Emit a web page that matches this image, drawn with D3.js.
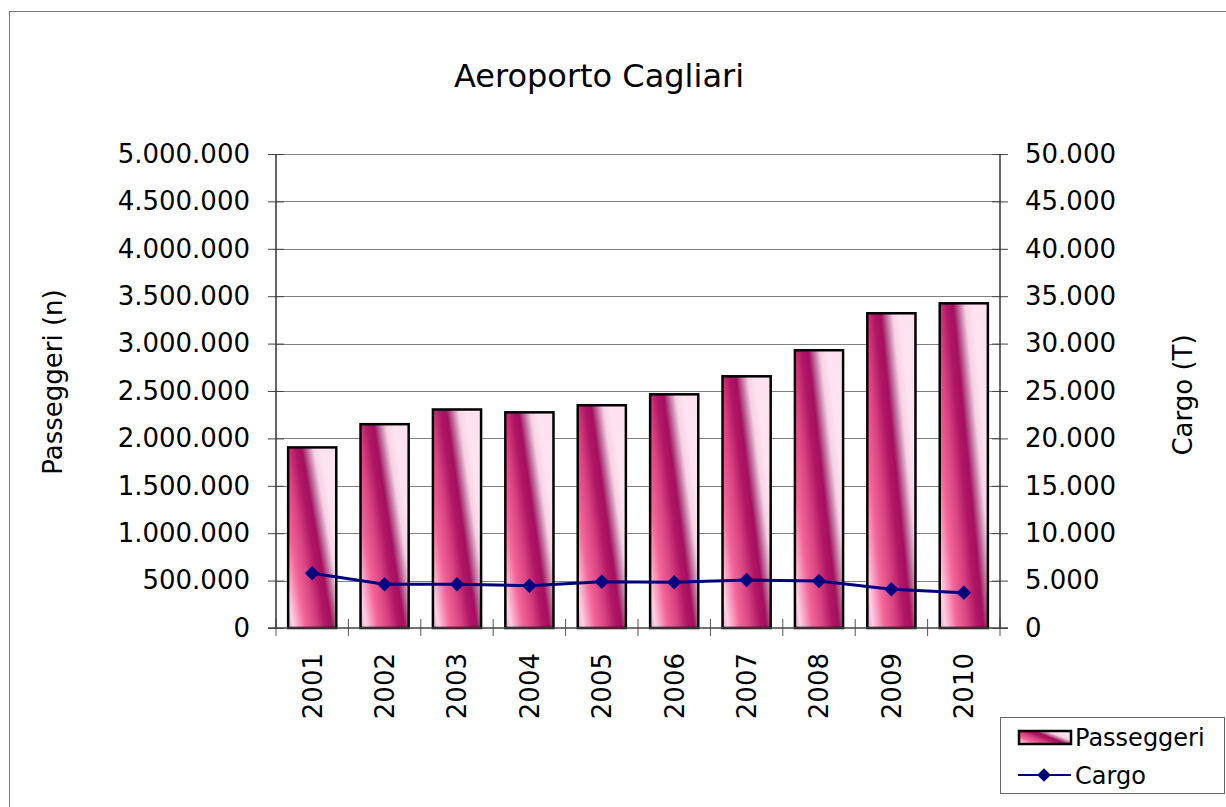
<!DOCTYPE html>
<html>
<head>
<meta charset="utf-8">
<script src="https://cdn.jsdelivr.net/npm/d3@7"></script>
<style>
html,body{margin:0;padding:0;background:#fff;}
svg{display:block;font-family:"DejaVu Sans",Verdana,sans-serif;}
</style>
</head>
<body>
<svg id="chart" width="1226" height="807"></svg>
<script>
const years = ["2001","2002","2003","2004","2005","2006","2007","2008","2009","2010"];
const passeggeri = [1905000, 2150000, 2305000, 2275000, 2350000, 2465000, 2655000, 2930000, 3320000, 3425000];
const cargo = [5770, 4610, 4610, 4460, 4890, 4820, 5060, 4960, 4080, 3730];
const leftTicks = [0,500000,1000000,1500000,2000000,2500000,3000000,3500000,4000000,4500000,5000000];
const rightTicks = [0,5000,10000,15000,20000,25000,30000,35000,40000,45000,50000];
const title = "Aeroporto Cagliari";
const leftTitle = "Passeggeri (n)";
const rightTitle = "Cargo (T)";
const seriesNames = ["Passeggeri","Cargo"];

const svg = d3.select("#chart");
const locale = d3.formatLocale({decimal:",", thousands:".", grouping:[3], currency:["€",""]});
const fmt = locale.format(",d");

const L = 276, R = 1000, T = 154, B = 628;

// outer frame
svg.append("rect").attr("x",9.5).attr("y",11.5).attr("width",1240).attr("height",820)
  .attr("fill","none").attr("stroke","#7a7a7a").attr("stroke-width",1);

// gradient
const defs = svg.append("defs");
const grad = defs.append("linearGradient").attr("id","barGrad")
  .attr("x1",-0.454).attr("y1",0.291).attr("x2",0.709).attr("y2",-0.454);
[[0,"#d6a6cf"],[0.07,"#fbd3e5"],[0.22,"#f3679a"],[0.36,"#d8427f"],[0.48,"#b01665"],[0.56,"#a60f5e"],
 [0.64,"#c87aa6"],[0.71,"#f6d2e4"],[0.80,"#ffe3f0"],[1,"#ffe0ee"]]
 .forEach(([o,c])=>grad.append("stop").attr("offset",o).attr("stop-color",c));

const x = d3.scaleBand().domain(years).range([L,R]).padding(0);
const yL = d3.scaleLinear().domain([0,5000000]).range([B,T]);
const yR = d3.scaleLinear().domain([0,50000]).range([B,T]);

// gridlines
svg.append("g").selectAll("line").data(leftTicks.slice(1)).join("line")
  .attr("x1",L).attr("x2",R)
  .attr("y1",d=>Math.round(yL(d))+0.5).attr("y2",d=>Math.round(yL(d))+0.5)
  .attr("stroke","#808080").attr("stroke-width",1);

// bars
const bw = x.bandwidth()*0.665;
svg.append("g").selectAll("rect").data(years).join("rect")
  .attr("x",(d)=>x(d)+x.bandwidth()/2-bw/2)
  .attr("width",bw)
  .attr("y",(d,i)=>yL(passeggeri[i]))
  .attr("height",(d,i)=>B-yL(passeggeri[i]))
  .attr("fill","url(#barGrad)")
  .attr("stroke","#000").attr("stroke-width",2.5);

// axes
const axL = svg.append("g").attr("transform",`translate(${L},0)`)
  .call(d3.axisLeft(yL).tickValues(leftTicks).tickFormat(fmt).tickSize(8).tickPadding(18));
const axR = svg.append("g").attr("transform",`translate(${R},0)`)
  .call(d3.axisRight(yR).tickValues(rightTicks).tickFormat(fmt).tickSize(8).tickPadding(17));
const axB = svg.append("g").attr("transform",`translate(0,${B})`)
  .call(d3.axisBottom(x).tickSize(8).tickFormat(d=>d));

[axL,axR].forEach(a=>{
  a.select(".domain").remove();
  a.selectAll(".tick line").attr("x1",-8).attr("x2",8).attr("stroke","#444").attr("stroke-width",1);
  a.selectAll(".tick text").attr("font-size",26).attr("font-family","DejaVu Sans").attr("fill","#000");
});
axB.select(".domain").remove();
// boundary ticks for category axis
axB.selectAll(".tick line").remove();
axB.append("g").selectAll("line").data(d3.range(years.length+1)).join("line")
  .attr("x1",i=>L+i*x.step()).attr("x2",i=>L+i*x.step())
  .attr("y1",-9).attr("y2",8).attr("stroke","#555").attr("stroke-width",1);
axB.selectAll(".tick text")
  .attr("font-size",26).attr("font-family","DejaVu Sans").attr("fill","#000")
  .attr("text-anchor","end")
  .attr("transform","rotate(-90)")
  .attr("x",-25).attr("y",0).attr("dy","0.36em");

// axis lines
svg.append("line").attr("x1",L).attr("x2",L).attr("y1",T).attr("y2",B).attr("stroke","#333").attr("stroke-width",1.5);
svg.append("line").attr("x1",R).attr("x2",R).attr("y1",T).attr("y2",B).attr("stroke","#333").attr("stroke-width",1.5);
svg.append("line").attr("x1",L-8).attr("x2",R+8).attr("y1",B).attr("y2",B).attr("stroke","#444").attr("stroke-width",1.5);

// cargo line
const line = d3.line().x((d,i)=>x(years[i])+x.bandwidth()/2).y(d=>yR(d));
svg.append("path").datum(cargo).attr("d",line).attr("fill","none")
  .attr("stroke","#000080").attr("stroke-width",3);
const diamond = d3.symbol().type(d3.symbolDiamond2).size(135);
svg.append("g").selectAll("path").data(cargo).join("path")
  .attr("d",diamond)
  .attr("transform",(d,i)=>`translate(${x(years[i])+x.bandwidth()/2},${yR(d)})`)
  .attr("fill","#000080");

// titles
svg.append("text").attr("x",599).attr("y",87).attr("text-anchor","middle")
  .attr("font-size",32).text(title);
svg.append("text").attr("transform","translate(62,382) rotate(-90)").attr("text-anchor","middle")
  .attr("font-size",26).text(leftTitle);
svg.append("text").attr("transform","translate(1192,395) rotate(-90)").attr("text-anchor","middle")
  .attr("font-size",26).text(rightTitle);

// legend
const lg = svg.append("g");
lg.append("rect").attr("x",1000.5).attr("y",717.5).attr("width",224).attr("height",76)
  .attr("fill","#fff").attr("stroke","#666").attr("stroke-width",1);
lg.append("rect").attr("x",1019).attr("y",731).attr("width",52).attr("height",13)
  .attr("fill","url(#barGrad)").attr("stroke","#000").attr("stroke-width",2.5);
lg.append("text").attr("x",1075).attr("y",746).attr("font-size",24).text(seriesNames[0]);
lg.append("line").attr("x1",1018).attr("x2",1071).attr("y1",775).attr("y2",775)
  .attr("stroke","#000080").attr("stroke-width",2);
lg.append("path").attr("d",d3.symbol().type(d3.symbolDiamond2).size(120))
  .attr("transform","translate(1044,775)").attr("fill","#000080");
lg.append("text").attr("x",1075).attr("y",784).attr("font-size",24).text(seriesNames[1]);
</script>
</body>
</html>
